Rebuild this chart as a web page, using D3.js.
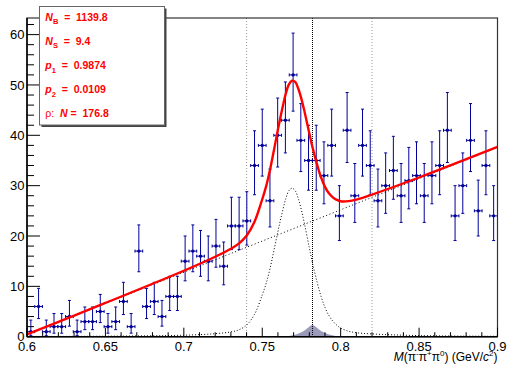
<!DOCTYPE html>
<html>
<head>
<meta charset="utf-8">
<script src="https://cdn.jsdelivr.net/npm/d3@7.9.0/dist/d3.min.js"></script>
<style>
  body { margin: 0; background: #fff; }
  svg { display: block; font-family: "Liberation Sans", Arial, Helvetica, sans-serif; }
</style>
</head>
<body>
<svg id="chart" width="508" height="372"></svg>
<script>
// 61 bins between 0.6 and 0.9 GeV/c^2
const xMin = 0.6;
const xMax = 0.9;
const counts = [
  1, 6, 1, 2, 2, 4, 1, 3, 3, 5,
  2, 3, 7, 2, 17, 6, 7, 4, 8, 8,
  15, 17, 16, 15, 18, 14, 22, 22, 23, 34,
  38, 27, 40, 43, 52, 39, 35, 35, 32, 38,
  24, 41, 28, 38, 34, 27, 30, 33, 28, 31,
  32, 28, 32, 34, 41, 24, 30, 39, 25, 34,
  24
];
// asymmetric poisson errors, read per count
const errLow = [
  0.8, 2.4, 0.8, 1.3, 1.3, 1.9, 0.8, 1.6, 1.6, 2.2,
  1.3, 1.6, 2.6, 1.3, 4.1, 2.4, 2.6, 1.9, 2.8, 2.8,
  3.9, 4.1, 4.0, 3.9, 4.2, 3.7, 4.7, 4.7, 4.8, 5.8,
  6.1, 5.2, 6.3, 6.5, 7.2, 6.2, 5.9, 5.9, 5.6, 6.1,
  4.9, 6.4, 5.3, 6.1, 5.8, 5.2, 5.5, 5.7, 5.3, 5.6,
  5.6, 5.3, 5.6, 5.8, 6.4, 4.9, 5.5, 6.2, 5.0, 5.8,
  4.9
];
const errHigh = [
  2.3, 3.6, 2.3, 2.6, 2.6, 3.2, 2.3, 2.9, 2.9, 3.4,
  2.6, 2.9, 3.8, 2.6, 5.2, 3.6, 3.8, 3.2, 4.0, 4.0,
  5.0, 5.2, 5.1, 5.0, 5.3, 4.8, 5.7, 5.7, 5.8, 6.9,
  7.2, 6.3, 7.4, 7.6, 8.3, 7.3, 7.0, 7.0, 6.7, 7.2,
  6.0, 7.5, 6.4, 7.2, 6.9, 6.3, 6.5, 6.8, 6.4, 6.6,
  6.7, 6.4, 6.7, 6.9, 7.5, 6.0, 6.5, 7.3, 6.1, 6.9,
  6.0
];

// fit components
const bgX = [0.6, 0.9];
const bgY = [0.4, 37.6];
const sigX = [0.600, 0.650, 0.700, 0.720, 0.730, 0.735, 0.740, 0.745, 0.750, 0.7525,
  0.755, 0.7575, 0.760, 0.762, 0.765, 0.767, 0.769, 0.771, 0.773, 0.775,
  0.777, 0.780, 0.782, 0.785, 0.7875, 0.790, 0.7925, 0.795, 0.7975, 0.800,
  0.805, 0.810, 0.820, 0.850, 0.900];
const sigY = [0.05, 0.10, 0.30, 0.60, 0.95, 1.35, 2.3, 4.4, 8.3, 10.6,
  13.6, 17.2, 20.9, 23.7, 27.4, 29.0, 29.5, 29.0, 27.4, 25.1,
  22.3, 17.7, 14.7, 10.8, 8.0, 5.8, 4.2, 3.1, 2.3, 1.7,
  1.1, 0.8, 0.55, 0.22, 0.09];

// shaded omega shape at the bottom
const shadeX = [0.764, 0.768, 0.772, 0.775, 0.778, 0.780, 0.782, 0.784, 0.786, 0.789, 0.792, 0.796, 0.800];
const shadeY = [0, 0.2, 0.5, 0.9, 1.5, 2.0, 2.3, 2.0, 1.5, 0.9, 0.5, 0.2, 0];

const windowLines = [0.74, 0.82];
const massLine = 0.782;

const xTicks = [0.6, 0.65, 0.7, 0.75, 0.8, 0.85, 0.9];
const yTicks = [0, 10, 20, 30, 40, 50, 60];

const statLines = [
  { sym: 'N', sub: 'B', eq: '  =  ', val: '1139.8' },
  { sym: 'N', sub: 'S', eq: '  =  ', val: '9.4' },
  { sym: 'p', sub: '1', eq: '  =  ', val: '0.9874' },
  { sym: 'p', sub: '2', eq: '  =  ', val: '0.0109' },
  { pre: 'ρ:  ', sym: 'N', sub: '', eq: ' =  ', val: '176.8' }
];

const padL = 27, padR = 497.5, padT = 18, padB = 336.7;

const svg = d3.select('#chart');

let x = d3.scaleLinear().domain([xMin, xMax]).range([padL, padR]);
let y = d3.scaleLinear().domain([0, 63.3]).range([padB, padT]);
let bg = d3.scaleLinear().domain(bgX).range(bgY);

const binW = (xMax - xMin) / counts.length;
const blue = '#000099';

// shaded region
svg.append('path')
  .datum(shadeX.map((d, i) => [d, shadeY[i]]))
  .attr('fill', '#9a9abb')
  .attr('d', d3.area().x(d => x(d[0])).y0(y(0)).y1(d => y(d[1])).curve(d3.curveMonotoneX));

// vertical markers
windowLines.forEach(v => {
  svg.append('line')
    .attr('x1', x(v)).attr('x2', x(v))
    .attr('y1', padT).attr('y2', padB)
    .attr('stroke', '#999').attr('stroke-width', 1)
    .attr('stroke-dasharray', '1,2');
});
svg.append('line')
  .attr('x1', x(massLine)).attr('x2', x(massLine))
  .attr('y1', padT).attr('y2', padB)
  .attr('stroke', '#000').attr('stroke-width', 1.6)
  .attr('shape-rendering', 'crispEdges')
  .attr('stroke-dasharray', '1,1');

// background (dotted line)
svg.append('line')
  .attr('x1', x(bgX[0])).attr('y1', y(bgY[0]))
  .attr('x2', x(bgX[1])).attr('y2', y(bgY[1]))
  .attr('stroke', '#000').attr('stroke-width', 1)
  .attr('stroke-dasharray', '1,2.5');

// signal (dotted curve)
svg.append('path')
  .datum(sigX.map((d, i) => [d, sigY[i]]))
  .attr('fill', 'none')
  .attr('stroke', '#000').attr('stroke-width', 1)
  .attr('stroke-dasharray', '1,2')
  .attr('d', d3.line().x(d => x(d[0])).y(d => y(d[1])).curve(d3.curveCatmullRom));

// data points
let pts = svg.append('g');
counts.forEach((n, i) => {
  let cx = x(xMin + (i + 0.5) * binW);
  let x0 = x(xMin + i * binW), x1 = x(xMin + (i + 1) * binW);
  let yl = y(Math.max(n - errLow[i], 0)), yh = y(n + errHigh[i]);
  let g = pts.append('g').attr('stroke', blue).attr('stroke-width', 1);
  g.append('line').attr('x1', cx).attr('x2', cx).attr('y1', yl).attr('y2', yh);
  g.append('line').attr('x1', cx - 1.5).attr('x2', cx + 1.5).attr('y1', yl).attr('y2', yl);
  g.append('line').attr('x1', cx - 1.5).attr('x2', cx + 1.5).attr('y1', yh).attr('y2', yh);
  g.append('line').attr('x1', x0).attr('x2', x1).attr('y1', y(n)).attr('y2', y(n));
  g.append('line').attr('x1', x0).attr('x2', x0).attr('y1', y(n) - 1.5).attr('y2', y(n) + 1.5);
  g.append('line').attr('x1', x1).attr('x2', x1).attr('y1', y(n) - 1.5).attr('y2', y(n) + 1.5);
  pts.append('circle').attr('cx', cx).attr('cy', y(n)).attr('r', 1.7).attr('fill', blue);
});

// total fit
svg.append('path')
  .datum(sigX.map((d, i) => [d, sigY[i] + bg(d)]))
  .attr('fill', 'none')
  .attr('stroke', '#ff0000').attr('stroke-width', 2.4)
  .attr('d', d3.line().x(d => x(d[0])).y(d => y(d[1])).curve(d3.curveCatmullRom));

// frame
svg.append('rect')
  .attr('x', padL).attr('y', padT)
  .attr('width', padR - padL).attr('height', padB - padT)
  .attr('fill', 'none').attr('stroke', '#333').attr('stroke-width', 1.2);

// axes with inward ticks
let xAxis = svg.append('g').attr('transform', `translate(0,${padB})`);
xAxis.append('line').attr('x1', padL).attr('x2', padR).attr('stroke', '#000').attr('stroke-width', 1.5);
d3.range(0, 31).forEach(k => {
  let v = xMin + k * 0.01;
  let major = k % 5 === 0;
  xAxis.append('line')
    .attr('x1', x(v)).attr('x2', x(v))
    .attr('y1', 0).attr('y2', major ? -9 : -4.5)
    .attr('stroke', '#000').attr('stroke-width', 1);
});
xTicks.forEach(v => {
  xAxis.append('text')
    .attr('x', x(v)).attr('y', 14.3)
    .attr('text-anchor', 'middle')
    .attr('font-size', 13)
    .text(+v.toFixed(2));
});

let yAxis = svg.append('g').attr('transform', `translate(${padL},0)`);
yAxis.append('line').attr('y1', padT).attr('y2', padB).attr('stroke', '#000').attr('stroke-width', 1.5);
d3.range(0, 32).forEach(k => {
  let v = k * 2;
  if (v > 63.3) return;
  let major = k % 5 === 0;
  yAxis.append('line')
    .attr('y1', y(v)).attr('y2', y(v))
    .attr('x1', 0).attr('x2', major ? 13 : 7)
    .attr('stroke', '#000').attr('stroke-width', 1);
});
yTicks.forEach(v => {
  yAxis.append('text')
    .attr('x', -2.5).attr('y', y(v) + 4.6)
    .attr('text-anchor', 'end')
    .attr('font-size', 13)
    .text(v);
});

// x title
let title = svg.append('text')
  .attr('x', padR).attr('y', 361)
  .attr('text-anchor', 'end')
  .attr('font-size', 12);
title.append('tspan').attr('font-style', 'italic').text('M');
title.append('tspan').text('(π');
title.append('tspan').attr('font-size', 8).attr('dy', -5).text('-');
title.append('tspan').attr('dy', 5).text('π');
title.append('tspan').attr('font-size', 8).attr('dy', -5).text('+');
title.append('tspan').attr('dy', 5).text('π');
title.append('tspan').attr('font-size', 8).attr('dy', -5).text('0');
title.append('tspan').attr('dy', 5).text(') (GeV/');
title.append('tspan').attr('font-style', 'italic').text('c');
title.append('tspan').attr('font-size', 8).attr('dy', -5).text('2');
title.append('tspan').attr('dy', 5).text(')');

// stats box
svg.append('rect')
  .attr('x', 41.5).attr('y', 8.5).attr('width', 125).attr('height', 118.5)
  .attr('fill', '#444');
svg.append('rect')
  .attr('x', 39.5).attr('y', 6.5).attr('width', 125).attr('height', 118.5)
  .attr('fill', '#fff').attr('stroke', '#666').attr('stroke-width', 1);

statLines.forEach((d, i) => {
  let t = svg.append('text')
    .attr('x', 45.3).attr('y', 20.7 + i * 24.15)
    .attr('fill', '#ff0000')
    .attr('font-size', 10.5)
    .attr('font-weight', 'bold')
    .style('white-space', 'pre');
  if (d.pre) t.append('tspan').attr('font-weight', 'normal').text(d.pre);
  t.append('tspan').attr('font-style', 'italic').text(d.sym);
  if (d.sub) {
    t.append('tspan').attr('font-size', 7.5).attr('dy', 3.5).text(d.sub);
    t.append('tspan').attr('dy', -3.5).text(d.eq + d.val);
  } else {
    t.append('tspan').text(d.eq + d.val);
  }
});
</script>
</body>
</html>
